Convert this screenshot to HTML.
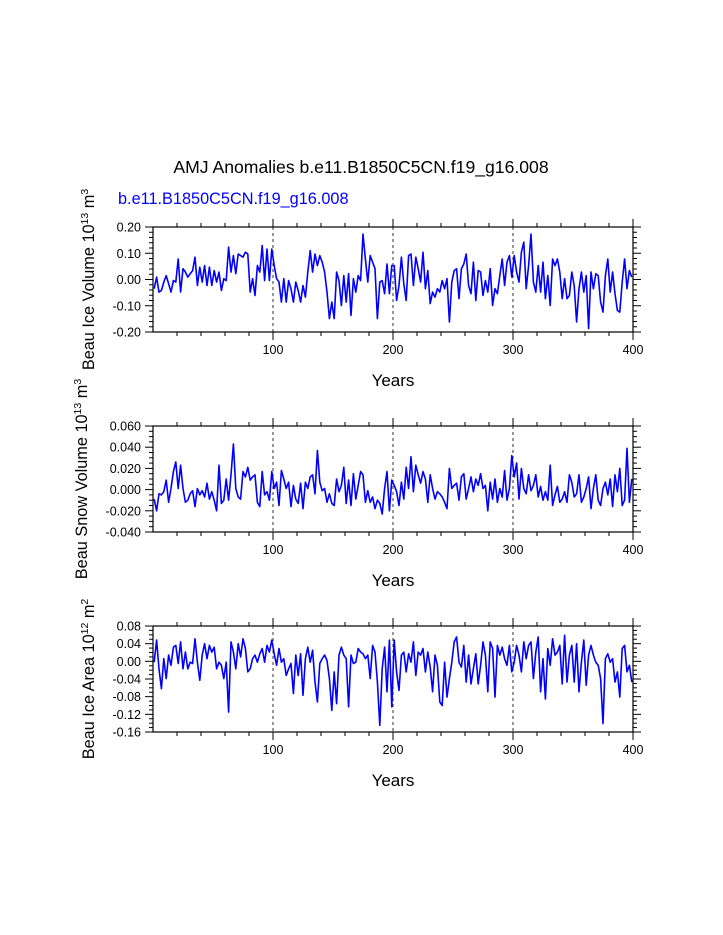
<!DOCTYPE html>
<html><head><meta charset="utf-8">
<style>
html,body{margin:0;padding:0;background:#fff;}
svg{display:block;font-family:"Liberation Sans",sans-serif;}
</style></head>
<body>
<svg id="fig" width="723" height="935" viewBox="0 0 723 935" xmlns="http://www.w3.org/2000/svg">
<text x="361" y="173" font-size="17.6" text-anchor="middle" fill="#000">AMJ Anomalies b.e11.B1850C5CN.f19_g16.008</text>
<text x="118" y="204" font-size="16.3" fill="#0000ff">b.e11.B1850C5CN.f19_g16.008</text>
</svg>
<script>
// years: odd years 1..399 (category axis)
const startYear = 1;
const yearStep = 2;
const xTickLabels = ["100","200","300","400"];
const iceVolume = [
-0.035,0.009,-0.048,-0.042,-0.01,0.015,-0.016,-0.048,-0.004,-0.01,
0.078,-0.048,0.041,0.028,0.009,0.022,0.034,0.085,-0.023,0.047,
-0.01,0.053,-0.023,0.047,-0.023,0.034,-0.01,0.028,-0.042,0.003,
-0.004,0.123,0.028,0.091,0.022,0.097,0.091,0.085,0.104,0.097,
-0.048,0.003,-0.061,0.053,0.028,0.129,-0.004,0.116,-0.004,0.116,
0.053,0.003,-0.01,-0.086,0.003,-0.086,-0.004,-0.035,-0.086,-0.01,
-0.042,-0.086,-0.023,-0.067,0.028,0.11,0.028,0.097,0.053,0.091,
0.066,0.028,-0.048,-0.149,-0.086,-0.149,0.028,-0.004,-0.099,0.015,
-0.086,0.022,-0.137,0.003,-0.048,0.015,-0.004,0.173,0.078,-0.01,
0.091,0.066,0.041,-0.149,-0.01,-0.004,-0.054,0.059,-0.054,0.053,
0.053,-0.08,-0.023,0.085,-0.016,-0.08,0.091,0.097,-0.023,0.085,
0.041,-0.01,0.104,-0.035,0.034,-0.092,-0.048,-0.067,-0.035,-0.048,
-0.004,-0.035,0.003,-0.162,-0.01,0.034,0.041,-0.073,0.041,0.059,
0.097,-0.023,-0.054,0.066,-0.08,0.034,0.028,-0.061,-0.004,-0.048,
0.041,-0.099,-0.035,-0.054,0.015,0.078,-0.023,0.066,0.091,0.009,
0.091,0.028,-0.01,0.104,0.142,-0.035,0.053,0.173,-0.01,-0.048,
0.053,-0.048,0.066,-0.073,0.015,-0.099,0.078,0.053,0.078,0.028,
-0.073,0.003,-0.073,-0.061,0.028,-0.023,-0.162,-0.035,0.028,-0.048,
0.015,-0.187,0.028,-0.035,0.022,0.015,-0.086,-0.124,0.015,0.078,
-0.048,0.028,-0.054,-0.118,-0.124,-0.01,0.078,-0.035,0.034,0.009];
const snowVolume = [
-0.009,-0.020,-0.004,-0.005,-0.002,0.009,-0.012,0.001,0.017,0.026,
0.001,0.023,0.001,-0.012,-0.010,-0.004,-0.001,-0.016,0.001,-0.005,
-0.001,-0.007,0.006,-0.009,-0.002,-0.010,-0.020,0.023,-0.013,-0.010,
0.010,-0.010,0.014,0.043,0.001,-0.007,-0.009,0.017,0.012,0.021,
0.009,0.012,0.014,-0.012,-0.016,0.017,-0.005,-0.002,-0.010,0.017,
0.001,0.007,-0.015,0.018,0.010,0.001,0.007,-0.016,0.004,-0.009,
-0.013,0.006,-0.018,0.007,0.001,0.012,0.014,-0.004,0.037,0.007,
-0.001,0.001,-0.012,-0.004,-0.013,-0.015,0.010,-0.002,0.004,0.021,
-0.013,0.009,-0.015,0.015,-0.009,0.004,0.017,0.014,-0.012,-0.001,
-0.012,-0.007,-0.018,-0.010,-0.013,-0.023,0.001,0.017,-0.020,0.009,
0.004,-0.002,-0.015,0.007,-0.009,0.021,0.001,0.031,-0.002,0.023,
0.014,0.006,0.017,0.010,-0.012,0.014,0.001,-0.009,-0.002,-0.004,
-0.007,-0.012,-0.018,0.020,0.001,0.004,0.006,-0.010,0.012,0.015,
-0.009,0.001,0.012,-0.002,0.010,0.004,0.015,0.001,0.004,-0.020,
0.007,-0.009,0.010,-0.012,0.001,-0.007,0.018,-0.010,0.001,0.032,
0.012,0.025,-0.009,0.020,0.001,-0.004,0.014,-0.001,0.004,0.014,
-0.007,0.003,-0.010,-0.002,-0.010,0.023,-0.015,-0.005,0.003,-0.012,
-0.009,-0.002,-0.012,0.014,0.007,-0.007,-0.004,0.014,-0.012,-0.007,
0.001,0.012,-0.018,0.001,0.014,-0.010,-0.015,0.001,0.007,-0.005,
0.010,-0.016,0.014,-0.002,0.020,-0.015,-0.010,0.039,-0.012,0.010];
const iceArea = [
-0.002,0.048,-0.017,-0.062,0.006,-0.039,0.014,-0.009,0.032,0.036,
-0.005,0.044,-0.017,0.021,-0.017,-0.002,-0.005,0.051,-0.002,-0.043,
0.014,0.040,0.006,0.036,0.021,0.032,-0.017,-0.002,-0.009,-0.039,
-0.002,-0.115,0.044,0.021,-0.017,0.040,0.010,0.051,0.029,-0.024,
-0.017,0.006,0.014,-0.002,0.017,0.029,-0.002,0.036,0.021,0.048,
0.017,-0.009,0.029,-0.002,0.006,-0.032,-0.017,-0.005,-0.073,0.014,
-0.032,0.017,-0.077,0.006,0.032,-0.002,0.025,-0.047,-0.092,-0.005,
0.006,0.014,0.002,-0.039,-0.111,-0.024,-0.096,0.014,0.032,0.014,
0.006,-0.103,0.014,-0.005,-0.002,0.029,0.021,0.017,0.006,0.014,
-0.039,0.036,0.021,-0.047,-0.145,-0.017,0.032,-0.069,0.048,-0.103,
0.048,-0.024,-0.066,0.014,0.021,-0.024,0.017,-0.002,0.044,-0.032,
0.021,0.014,0.029,-0.024,0.021,-0.013,-0.069,0.014,-0.009,-0.092,
-0.100,-0.002,-0.081,-0.039,-0.002,0.044,0.055,-0.002,-0.013,0.036,
-0.047,0.014,-0.051,-0.017,0.017,-0.051,-0.009,0.044,0.014,-0.069,
0.044,0.029,-0.081,0.036,0.014,0.032,0.006,-0.009,0.036,-0.024,
-0.002,0.036,0.014,-0.024,0.044,0.006,0.036,0.044,-0.039,0.021,
0.055,-0.069,0.006,-0.085,0.029,-0.009,0.051,0.014,0.021,0.036,
-0.051,0.059,-0.047,0.014,0.036,-0.047,0.040,-0.069,-0.002,0.048,
-0.054,0.014,0.036,0.014,-0.002,-0.009,-0.039,-0.141,0.006,0.017,
-0.002,0.006,-0.047,-0.024,-0.081,0.029,0.036,-0.024,-0.009,-0.047];
const iceVolumeTicks = ["0.20","0.10","0.00","-0.10","-0.20"];
const snowVolumeTicks = ["0.060","0.040","0.020","0.000","-0.020","-0.040"];
const iceAreaTicks = ["0.08","0.04","0.00","-0.04","-0.08","-0.12","-0.16"];

const NS = "http://www.w3.org/2000/svg";
const svg = document.getElementById('fig');
function mk(tag, attrs, parent) {
  const e = document.createElementNS(NS, tag);
  for (const k in attrs) e.setAttribute(k, attrs[k]);
  (parent || svg).appendChild(e);
  return e;
}
const X0 = 153, X1 = 633, XMIN = 0, XMAX = 400;
function xScale(yr) { return X0 + (yr - XMIN) / (XMAX - XMIN) * (X1 - X0); }

function panel(cfg) {
  const g = mk('g', {});
  
  
  const yScale = v => cfg.top + (cfg.ymax - v) / (cfg.ymax - cfg.ymin) * (cfg.bottom - cfg.top);
  [100, 200, 300].forEach(yr => {
    const l = mk('line', {x1: xScale(yr), x2: xScale(yr), y1: cfg.top, y2: cfg.bottom, stroke: '#000', 'stroke-width': 0.8, 'stroke-dasharray': '3,3'}, g);
    
    
  });
  let d = '';
  cfg.values.forEach((v, i) => {
    const yr = startYear + i * yearStep;
    d += (i ? 'L' : 'M') + xScale(yr).toFixed(1) + ',' + yScale(v).toFixed(1);
  });
  const p = mk('path', {d: d, fill: 'none', stroke: '#0000ff', 'stroke-width': 1.6, 'stroke-linejoin': 'round'}, g);
  
  
  const f = mk('rect', {x: X0, y: cfg.top, width: X1 - X0, height: cfg.bottom - cfg.top, fill: 'none', stroke: '#000', 'stroke-width': 1.2}, g);
  
  
  for (let yr = 20; yr <= 400; yr += 20) {
    const major = yr % 100 === 0;
    const len = major ? 8 : 4;
    const x = xScale(yr);
    mk('line', {x1: x, x2: x, y1: cfg.bottom, y2: cfg.bottom + len, stroke: '#000', 'stroke-width': 1}, g);
    mk('line', {x1: x, x2: x, y1: cfg.top, y2: cfg.top - len, stroke: '#000', 'stroke-width': 1}, g);
  }
  xTickLabels.forEach(lab => {
    const t = mk('text', {x: xScale(+lab), y: cfg.bottom + 22, 'font-size': 12.5, 'text-anchor': 'middle'}, g);
    t.textContent = lab;
    
    
  });
  const xt = mk('text', {x: (X0 + X1) / 2, y: cfg.bottom + 54, 'font-size': 17, 'text-anchor': 'middle'}, g);
  xt.textContent = 'Years';
  
  
  const n = Math.round((cfg.ymax - cfg.ymin) / cfg.minor);
  for (let i = 0; i <= n; i++) {
    const v = cfg.ymin + i * cfg.minor;
    const y = yScale(v);
    const major = i % cfg.per === 0;
    const len = major ? 8 : 4;
    mk('line', {x1: X0, x2: X0 - len, y1: y, y2: y, stroke: '#000', 'stroke-width': 1}, g);
    mk('line', {x1: X1, x2: X1 + len, y1: y, y2: y, stroke: '#000', 'stroke-width': 1}, g);
  }
  cfg.ticks.forEach(lab => {
    const t = mk('text', {x: X0 - 12, y: yScale(+lab) + 4.5, 'font-size': 12.5, 'text-anchor': 'end'}, g);
    t.textContent = lab;
    
    
  });
  const cy = (cfg.top + cfg.bottom) / 2;
  const yt = mk('text', {x: 0, y: 0, 'font-size': 16.3, 'text-anchor': 'middle', transform: 'translate(' + cfg.titleX + ',' + cy + ') rotate(-90)'}, g);
  
  
  yt.innerHTML = cfg.title;
}

panel({name: 'ice-volume-panel', values: iceVolume, top: 227, bottom: 332, ymin: -0.2, ymax: 0.2, minor: 0.02, per: 5, ticks: iceVolumeTicks, titleX: 94,
  title: 'Beau Ice Volume 10<tspan dy="-6" font-size="10.5">13</tspan><tspan dy="6"> m</tspan><tspan dy="-6" font-size="10.5">3</tspan>'});
panel({name: 'snow-volume-panel', values: snowVolume, top: 426, bottom: 532, ymin: -0.04, ymax: 0.06, minor: 0.005, per: 4, ticks: snowVolumeTicks, titleX: 87,
  title: 'Beau Snow Volume 10<tspan dy="-6" font-size="10.5">13</tspan><tspan dy="6"> m</tspan><tspan dy="-6" font-size="10.5">3</tspan>'});
panel({name: 'ice-area-panel', values: iceArea, top: 626, bottom: 732, ymin: -0.16, ymax: 0.08, minor: 0.01, per: 4, ticks: iceAreaTicks, titleX: 94,
  title: 'Beau Ice Area 10<tspan dy="-6" font-size="10.5">12</tspan><tspan dy="6"> m</tspan><tspan dy="-6" font-size="10.5">2</tspan>'});
</script>
</body></html>
